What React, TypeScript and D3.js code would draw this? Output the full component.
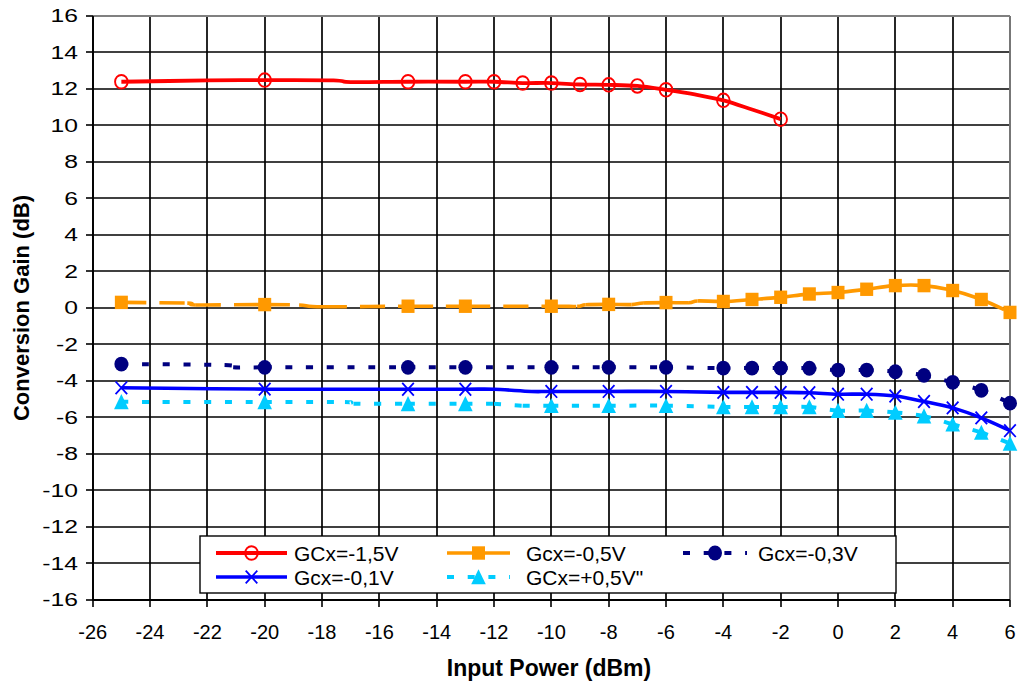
import React from "react";
import * as d3 from "d3";

// ---------- data ----------
const xTicks = [-26, -24, -22, -20, -18, -16, -14, -12, -10, -8, -6, -4, -2, 0, 2, 4, 6];
const yTicks = [-16, -14, -12, -10, -8, -6, -4, -2, 0, 2, 4, 6, 8, 10, 12, 14, 16];

// GCx=-1,5V
const redX = [-25, -22, -20, -17.6, -17, -15, -13, -12, -11, -10, -9, -8, -7, -6, -5, -4, -3, -2];
const redY = [12.37, 12.44, 12.46, 12.45, 12.35, 12.37, 12.37, 12.37, 12.3, 12.3, 12.22, 12.2, 12.14, 11.93, 11.68, 11.35, 10.85, 10.32];
const redMarks = [-25, -20, -15, -13, -12, -11, -10, -9, -8, -7, -6, -4, -2];

// Gcx=-0,5V
const orangeX = [-25, -22.7, -22.4, -20, -18.8, -18, -15, -13, -10, -9.1, -8.8, -8, -7.2, -6.8, -6, -5.2, -4.9, -4, -3, -2, -1, 0, 1, 2, 3, 4, 5, 6];
const orangeY = [0.28, 0.24, 0.14, 0.16, 0.14, 0.04, 0.07, 0.07, 0.07, 0.06, 0.15, 0.17, 0.16, 0.25, 0.27, 0.26, 0.36, 0.33, 0.44, 0.56, 0.74, 0.82, 1.0, 1.2, 1.2, 0.93, 0.44, -0.27];
const orangeMarks = [-25, -20, -15, -13, -10, -8, -6, -4, -3, -2, -1, 0, 1, 2, 3, 4, 5, 6];

// Gcx=-0,3V
const navyX = [-25, -21.4, -21.1, -20, -15, -13, -10, -8, -6, -4, -3, -2, -1, 0, 1, 2, 3, 4, 5, 6];
const navyY = [-3.1, -3.15, -3.28, -3.28, -3.28, -3.28, -3.28, -3.28, -3.28, -3.32, -3.32, -3.32, -3.33, -3.43, -3.43, -3.52, -3.72, -4.1, -4.54, -5.24];
const navyMarks = [-25, -20, -15, -13, -10, -8, -6, -4, -3, -2, -1, 0, 1, 2, 3, 4, 5, 6];

// Gcx=-0,1V
const blueX = [-25, -20, -15, -13, -12, -10.7, -10, -8, -6, -4, -3, -2, -1, 0, 1, 2, 3, 4, 5, 6];
const blueY = [-4.4, -4.47, -4.48, -4.48, -4.48, -4.6, -4.6, -4.6, -4.6, -4.65, -4.65, -4.65, -4.67, -4.75, -4.75, -4.85, -5.15, -5.5, -6.05, -6.75];
const blueMarks = [-25, -20, -15, -13, -10, -8, -6, -4, -3, -2, -1, 0, 1, 2, 3, 4, 5, 6];

// GCx=+0,5V"
const cyanX = [-25, -20, -17.2, -16.9, -15, -13, -12, -11, -10, -8, -6, -4, -3, -2, -1, 0, 1, 2, 3, 4, 5, 6];
const cyanY = [-5.17, -5.18, -5.18, -5.27, -5.28, -5.28, -5.28, -5.38, -5.38, -5.38, -5.38, -5.45, -5.45, -5.45, -5.45, -5.65, -5.65, -5.75, -5.95, -6.4, -6.85, -7.45];
const cyanMarks = [-25, -20, -15, -13, -10, -8, -6, -4, -3, -2, -1, 0, 1, 2, 3, 4, 5, 6];

const seriesNames = ["GCx=-1,5V", "Gcx=-0,5V", "Gcx=-0,3V", "Gcx=-0,1V", "GCx=+0,5V\""];

// ---------- styles ----------
type Marker = "circleOpen" | "square" | "dot" | "cross" | "triangle";
interface Series {
  name: string;
  xs: number[];
  ys: number[];
  marks: number[];
  color: string;
  width: number;
  dash: string | null;
  marker: Marker;
}

const SERIES: Series[] = [
  { name: seriesNames[0], xs: redX, ys: redY, marks: redMarks, color: "#FF0000", width: 3.8, dash: null, marker: "circleOpen" },
  { name: seriesNames[1], xs: orangeX, ys: orangeY, marks: orangeMarks, color: "#FF9900", width: 3.6, dash: "25 13", marker: "square" },
  { name: seriesNames[2], xs: navyX, ys: navyY, marks: navyMarks, color: "#000080", width: 4, dash: "7 13.7", marker: "dot" },
  { name: seriesNames[3], xs: blueX, ys: blueY, marks: blueMarks, color: "#0000FF", width: 3.6, dash: null, marker: "cross" },
  { name: seriesNames[4], xs: cyanX, ys: cyanY, marks: cyanMarks, color: "#00CCFF", width: 4, dash: "7 13.7", marker: "triangle" },
];

const W = 1022;
const H = 688;
const FONT = "'Liberation Sans', Arial, Helvetica, sans-serif";

const xScale = d3.scaleLinear().domain([-26, 6]).range([92.7, 1010]);
const yScale = d3.scaleLinear().domain([-16, 16]).range([599.5, 15.5]);
const snap = (v: number) => Math.round(v);

// Excel-like smoothed segments (Catmull-Rom -> Bezier)
function segments(pts: [number, number][]): string[] {
  const out: string[] = [];
  for (let i = 0; i < pts.length - 1; i++) {
    const p0 = pts[i - 1] || pts[i];
    const p1 = pts[i];
    const p2 = pts[i + 1];
    const p3 = pts[i + 2] || pts[i + 1];
    const c1x = p1[0] + (p2[0] - p0[0]) / 6;
    const c1y = p1[1] + (p2[1] - p0[1]) / 6;
    const c2x = p2[0] - (p3[0] - p1[0]) / 6;
    const c2y = p2[1] - (p3[1] - p1[1]) / 6;
    out.push(`M${p1[0]},${p1[1]}C${c1x},${c1y} ${c2x},${c2y} ${p2[0]},${p2[1]}`);
  }
  return out;
}

function MarkerShape({ type, cx, cy, color }: { type: Marker; cx: number; cy: number; color: string }) {
  switch (type) {
    case "circleOpen":
      return <ellipse cx={cx} cy={cy} rx={6.3} ry={6.8} fill="none" stroke={color} strokeWidth={1.9} />;
    case "square":
      return <rect x={cx - 6.5} y={cy - 6.7} width={13} height={13.4} fill={color} />;
    case "dot":
      return <ellipse cx={cx} cy={cy} rx={7} ry={7.4} fill={color} />;
    case "cross":
      return (
        <path
          d={`M${cx - 5.8},${cy - 6.3}L${cx + 5.8},${cy + 6.3}M${cx + 5.8},${cy - 6.3}L${cx - 5.8},${cy + 6.3}`}
          stroke={color}
          strokeWidth={1.8}
          fill="none"
        />
      );
    case "triangle":
      return <path d={`M${cx},${cy - 7.8}L${cx + 7.3},${cy + 7.3}L${cx - 7.3},${cy + 7.3}Z`} fill={color} />;
  }
  return null;
}

function SeriesLine({ s }: { s: Series }) {
  const pts: [number, number][] = s.xs.map((x, i) => [xScale(x), yScale(s.ys[i])]);
  const segs = segments(pts);
  return (
    <g>
      {s.dash ? (
        segs.map((d, i) => (
          <path key={i} d={d} fill="none" stroke={s.color} strokeWidth={s.width} strokeDasharray={s.dash!} />
        ))
      ) : (
        <path d={segs.join("")} fill="none" stroke={s.color} strokeWidth={s.width} strokeLinejoin="round" />
      )}
      {s.marks.map((mx) => {
        const idx = s.xs.indexOf(mx);
        return <MarkerShape key={mx} type={s.marker} cx={xScale(mx)} cy={yScale(s.ys[idx])} color={s.color} />;
      })}
    </g>
  );
}

export default function App() {
  const left = snap(xScale(-26));
  const right = snap(xScale(6));
  const top = snap(yScale(16));
  const bottom = snap(yScale(-16));

  // legend layout
  const lgX = 200, lgY = 536, lgW = 696, lgH = 57;
  const legendPos = [
    { lx: 216, tx: 294, y: 553 },
    { lx: 447, tx: 526, y: 553 },
    { lx: 683, tx: 758, y: 553 },
    { lx: 216, tx: 294, y: 577 },
    { lx: 447, tx: 526, y: 577 },
  ];
  const legendLineLen = [71, 63, 64, 71, 63];

  return (
    <svg width={W} height={H} style={{ position: "absolute", left: 0, top: 0, background: "#fff" }} fontFamily={FONT}>
      <rect x={0} y={0} width={W} height={H} fill="#fff" />
      {/* grid */}
      {yTicks.map((t) => (
        <line key={"gy" + t} x1={left} x2={right} y1={snap(yScale(t))} y2={snap(yScale(t))} stroke="#000" strokeWidth={1.7} />
      ))}
      {xTicks.map((t) => (
        <line key={"gx" + t} x1={snap(xScale(t))} x2={snap(xScale(t))} y1={top} y2={bottom} stroke="#000" strokeWidth={1.7} />
      ))}
      {/* top/right border */}
      <line x1={left} x2={right} y1={top} y2={top} stroke="#808080" strokeWidth={1.8} />
      <line x1={right} x2={right} y1={top} y2={bottom} stroke="#808080" strokeWidth={1.8} />
      {/* axes */}
      <line x1={left} x2={left} y1={top} y2={bottom + 0.9} stroke="#000" strokeWidth={1.8} />
      <line x1={left} x2={right} y1={bottom} y2={bottom} stroke="#000" strokeWidth={1.8} />
      {yTicks.map((t) => (
        <g key={"ty" + t}>
          <line x1={left - 7} x2={left} y1={snap(yScale(t))} y2={snap(yScale(t))} stroke="#000" strokeWidth={1.6} />
          <text
            transform={`translate(78,${yScale(t)}) scale(1.3,1)`}
            dy="0.36em"
            textAnchor="end"
            fontSize={19}
            fill="#000"
          >
            {t}
          </text>
        </g>
      ))}
      {xTicks.map((t) => (
        <g key={"tx" + t}>
          <line x1={snap(xScale(t))} x2={snap(xScale(t))} y1={bottom} y2={bottom + 7} stroke="#000" strokeWidth={1.6} />
          <text x={xScale(t)} y={639} textAnchor="middle" fontSize={20} fill="#000">
            {t}
          </text>
        </g>
      ))}
      {/* axis titles */}
      <text x={549} y={676} textAnchor="middle" fontSize={23} fontWeight="bold" fill="#000">
        Input Power (dBm)
      </text>
      <text transform={`translate(29,${(top + bottom) / 2}) rotate(-90)`} textAnchor="middle" fontSize={22} fontWeight="bold" fill="#000">
        Conversion Gain (dB)
      </text>

      {/* series */}
      {SERIES.map((s) => (
        <SeriesLine key={s.name} s={s} />
      ))}

      {/* legend */}
      <rect x={lgX} y={lgY} width={lgW} height={lgH} fill="#fff" stroke="#000" strokeWidth={1.4} />
      {SERIES.map((s, i) => {
        const p = legendPos[i];
        const len = legendLineLen[i];
        return (
          <g key={"lg" + i}>
            <line x1={p.lx} x2={p.lx + len} y1={p.y} y2={p.y} stroke={s.color} strokeWidth={s.width} strokeDasharray={s.dash || undefined} />
            <MarkerShape type={s.marker} cx={p.lx + len / 2} cy={p.y} color={s.color} />
            <text x={p.tx} y={p.y} dy="0.36em" fontSize={21} fill="#000">
              {s.name}
            </text>
          </g>
        );
      })}
    </svg>
  );
}
